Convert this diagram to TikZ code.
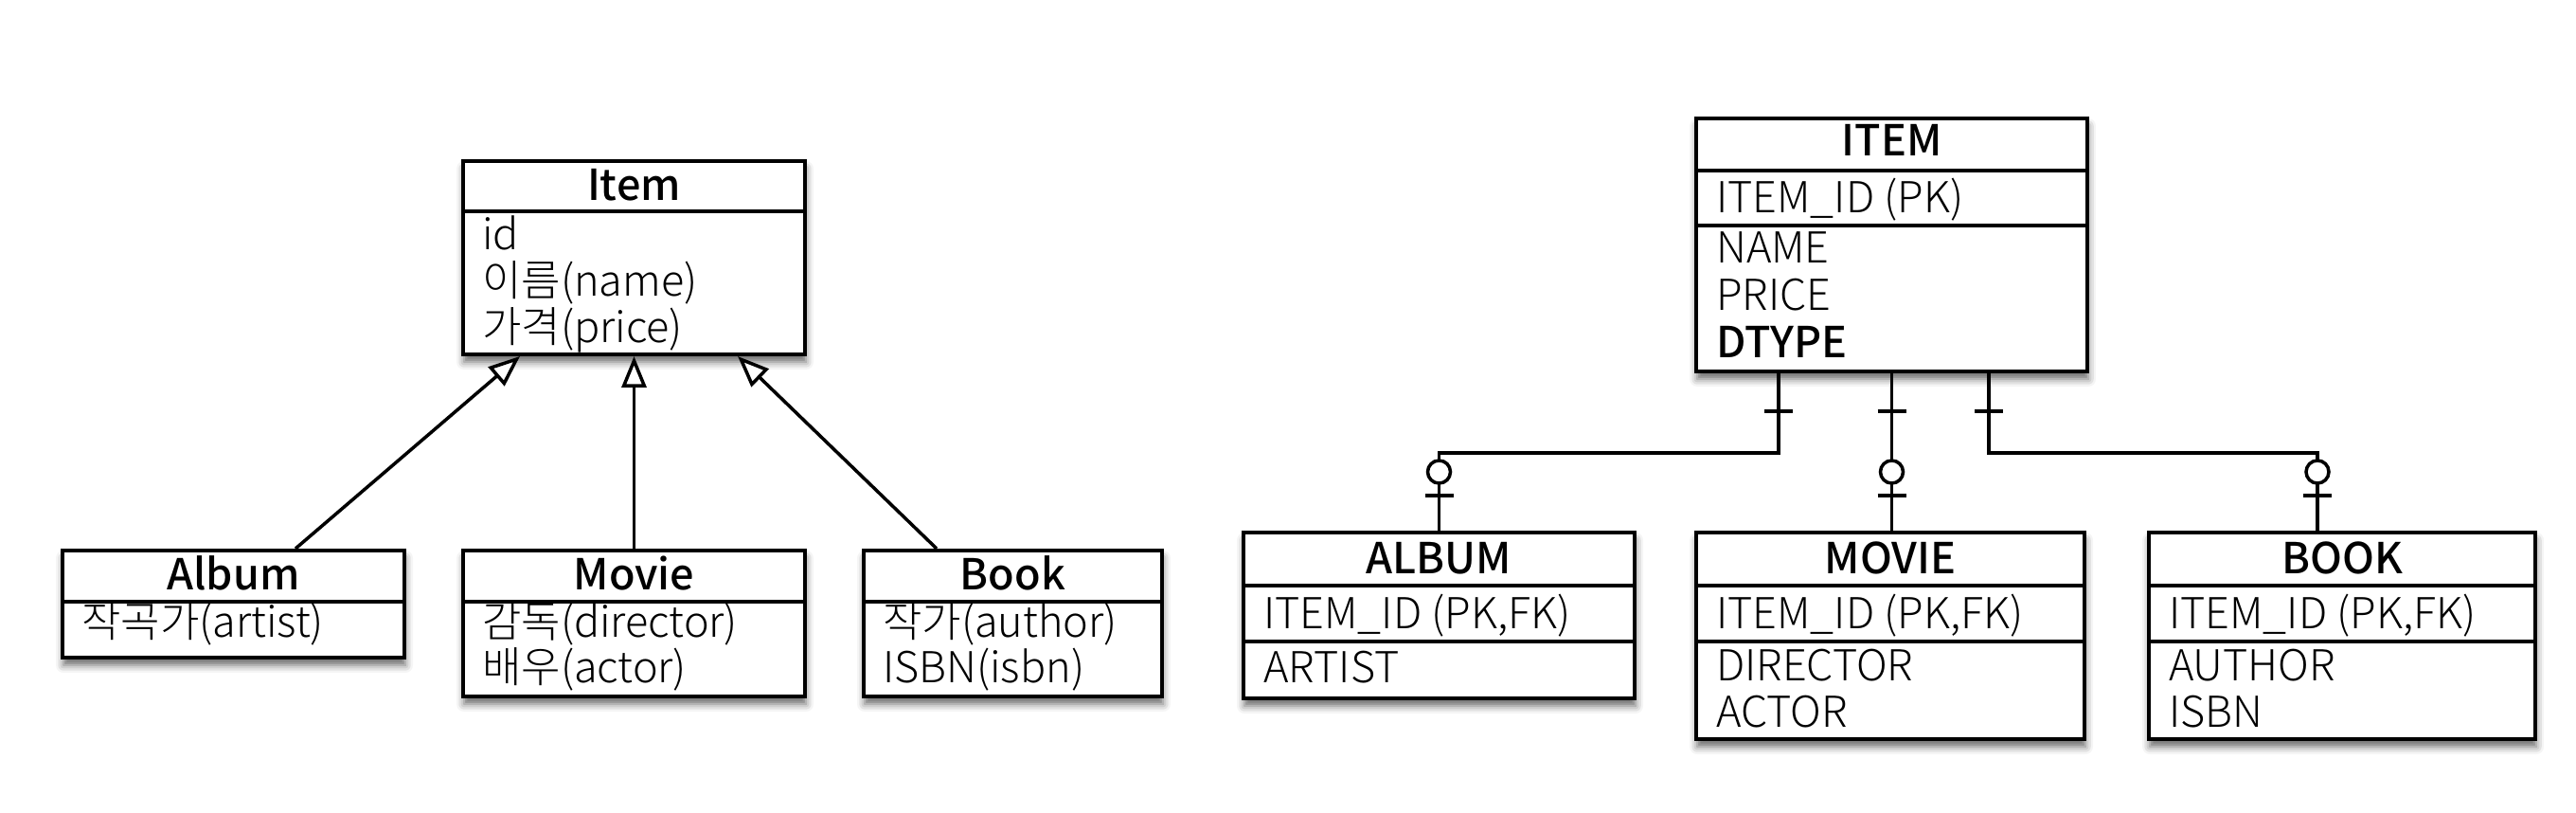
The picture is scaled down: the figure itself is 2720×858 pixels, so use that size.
\documentclass[tikz,border=0pt]{standalone}
\usepackage{fontspec}
\setmainfont{Noto Sans CJK KR}
\IfFontExistsTF{Noto Sans CJK KR Light}
  {\newfontfamily\bodyfont{Noto Sans CJK KR Light}}
  {\newfontfamily\bodyfont{Noto Sans CJK KR}}
\IfFontExistsTF{Noto Sans CJK KR Medium}
  {\newfontfamily\headfont{Noto Sans CJK KR Medium}}
  {\newfontfamily\headfont{Noto Sans CJK KR}[FakeBold=1.5]}
\usetikzlibrary{arrows.meta,shadows.blur,calc}
\begin{document}
\begin{tikzpicture}[x=1pt,y=-1pt,
  box/.style={draw, line width=4pt, fill=white, inner sep=0pt, anchor=north west,
    blur shadow={shadow xshift=1pt, shadow yshift=-8pt, shadow blur radius=8pt, shadow opacity=60}},
  div/.style={line width=4pt},
  hdr/.style={font=\headfont\fontsize{45}{50}\selectfont, inner sep=0pt, anchor=base},
  txt/.style={font=\bodyfont\fontsize{45}{50}\selectfont, inner sep=0pt, anchor=base west},
  conn/.style={line width=3.5pt},
  gen/.style={line width=3.5pt, -{Triangle[open, length=33pt, width=26pt, fill=white]}}]
\useasboundingbox (0,0) rectangle (2720,858);

% ---------- UML class diagram ----------
\node[box, minimum width=361pt, minimum height=204pt] (item) at (487,168) {};
\draw[div] ([yshift=-55pt]item.north west) -- ([yshift=-55pt]item.north east);
\node[hdr] (itemH) at ([yshift=-44pt]item.north) {Item};
\node[txt] (itemA1) at ([xshift=22pt,yshift=-96pt]item.north west) {id};
\node[txt] (itemA2) at ([xshift=22pt,yshift=-145pt]item.north west) {이름(name)};
\node[txt] (itemA3) at ([xshift=22pt,yshift=-194pt]item.north west) {가격(price)};

\node[box, minimum width=361pt, minimum height=113pt] (album) at (64,579) {};
\draw[div] ([yshift=-56pt]album.north west) -- ([yshift=-56pt]album.north east);
\node[hdr] (albumH) at ([yshift=-43pt]album.north) {Album};
\node[txt] (albumA1) at ([xshift=22pt,yshift=-93pt]album.north west) {작곡가(artist)};

\node[box, minimum width=361pt, minimum height=154pt] (movie) at (487,579) {};
\draw[div] ([yshift=-56pt]movie.north west) -- ([yshift=-56pt]movie.north east);
\node[hdr] (movieH) at ([yshift=-43pt]movie.north) {Movie};
\node[txt] (movieA1) at ([xshift=22pt,yshift=-93pt]movie.north west) {감독(director)};
\node[txt] (movieA2) at ([xshift=22pt,yshift=-141pt]movie.north west) {배우(actor)};

\node[box, minimum width=315pt, minimum height=154pt] (book) at (910,579) {};
\draw[div] ([yshift=-56pt]book.north west) -- ([yshift=-56pt]book.north east);
\node[hdr] (bookH) at ([yshift=-43pt]book.north) {Book};
\node[txt] (bookA1) at ([xshift=22pt,yshift=-93pt]book.north west) {작가(author)};
\node[txt] (bookA2) at ([xshift=22pt,yshift=-141pt]book.north west) {ISBN(isbn)};

\draw[gen] ([xshift=65.5pt]album.north) -- ([xshift=-120.5pt]item.south);
\draw[gen] (movie.north) -- (item.south);
\draw[gen] ([xshift=-80.5pt]book.north) -- ([xshift=109.5pt]item.south);

% ---------- ER diagram ----------
\node[box, minimum width=413pt, minimum height=267pt] (eItem) at (1789,123) {};
\draw[div] ([yshift=-57pt]eItem.north west) -- ([yshift=-57pt]eItem.north east);
\draw[div] ([yshift=-115pt]eItem.north west) -- ([yshift=-115pt]eItem.north east);
\node[hdr] (eItemH) at ([yshift=-42pt]eItem.north) {ITEM};
\node[txt] (eItemA1) at ([xshift=23pt,yshift=-102pt]eItem.north west) {ITEM\_ID (PK)};
\node[txt] (eItemA2) at ([xshift=23pt,yshift=-155pt]eItem.north west) {NAME};
\node[txt] (eItemA3) at ([xshift=23pt,yshift=-205pt]eItem.north west) {PRICE};
\node[txt, font=\headfont\fontsize{45}{50}\selectfont] (eItemA4) at ([xshift=23pt,yshift=-255pt]eItem.north west) {DTYPE};

\node[box, minimum width=413pt, minimum height=175pt] (eAlbum) at (1311,560) {};
\draw[div] ([yshift=-58pt]eAlbum.north west) -- ([yshift=-58pt]eAlbum.north east);
\draw[div] ([yshift=-117pt]eAlbum.north west) -- ([yshift=-117pt]eAlbum.north east);
\node[hdr] (eAlbumH) at ([yshift=-45pt]eAlbum.north) {ALBUM};
\node[txt] (eAlbumA1) at ([xshift=23pt,yshift=-103pt]eAlbum.north west) {ITEM\_ID (PK,FK)};
\node[txt] (eAlbumA2) at ([xshift=23pt,yshift=-160pt]eAlbum.north west) {ARTIST};

\node[box, minimum width=410pt, minimum height=218pt] (eMovie) at (1789,560) {};
\draw[div] ([yshift=-58pt]eMovie.north west) -- ([yshift=-58pt]eMovie.north east);
\draw[div] ([yshift=-117pt]eMovie.north west) -- ([yshift=-117pt]eMovie.north east);
\node[hdr] (eMovieH) at ([yshift=-45pt]eMovie.north) {MOVIE};
\node[txt] (eMovieA1) at ([xshift=23pt,yshift=-103pt]eMovie.north west) {ITEM\_ID (PK,FK)};
\node[txt] (eMovieA2) at ([xshift=23pt,yshift=-158pt]eMovie.north west) {DIRECTOR};
\node[txt] (eMovieA3) at ([xshift=23pt,yshift=-207pt]eMovie.north west) {ACTOR};

\node[box, minimum width=408pt, minimum height=218pt] (eBook) at (2267,560) {};
\draw[div] ([yshift=-58pt]eBook.north west) -- ([yshift=-58pt]eBook.north east);
\draw[div] ([yshift=-117pt]eBook.north west) -- ([yshift=-117pt]eBook.north east);
\node[hdr] (eBookH) at ([yshift=-45pt]eBook.north) {BOOK};
\node[txt] (eBookA1) at ([xshift=23pt,yshift=-103pt]eBook.north west) {ITEM\_ID (PK,FK)};
\node[txt] (eBookA2) at ([xshift=23pt,yshift=-158pt]eBook.north west) {AUTHOR};
\node[txt] (eBookA3) at ([xshift=23pt,yshift=-207pt]eBook.north west) {ISBN};

\coordinate (pL) at ([xshift=-119.5pt]eItem.south);
\coordinate (pM) at (eItem.south);
\coordinate (pR) at ([xshift=102.5pt]eItem.south);
\coordinate (cA) at (eAlbum.north);
\coordinate (cM) at (eItem.south |- eMovie.north);
\coordinate (cB) at ([xshift=-26pt]eBook.north);

\draw[conn] (pL) -- ++(0,84) -| (cA);
\draw[conn] (pM) -- (cM);
\draw[conn] (pR) -- ++(0,84) -| (cB);

\foreach \p in {pL,pM,pR}
  \draw[conn] ([xshift=-15pt,yshift=-40pt]\p) -- ([xshift=15pt,yshift=-40pt]\p);
\foreach \c in {cA,cM,cB}{
  \draw[conn] ([xshift=-15pt,yshift=37pt]\c) -- ([xshift=15pt,yshift=37pt]\c);
  \draw[conn, fill=white] ([yshift=62pt]\c) circle (12pt);
}
\end{tikzpicture}
\end{document}
